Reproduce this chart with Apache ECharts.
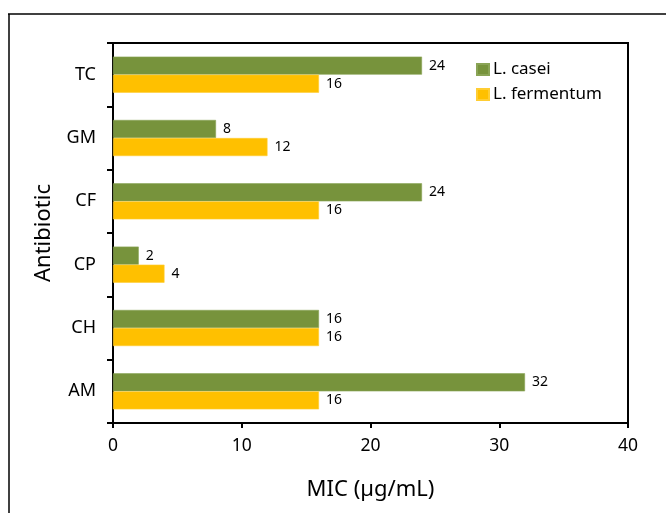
<!DOCTYPE html>
<html>
<head>
<meta charset="utf-8">
<script src="https://cdn.jsdelivr.net/npm/echarts@6/dist/echarts.min.js"></script>
<style>
html,body{margin:0;padding:0;background:#fff;}
#chart{width:666px;height:513px;}
</style>
</head>
<body>
<div id="chart"></div>
<script>
const categories = ['AM', 'CH', 'CP', 'CF', 'GM', 'TC'];
const caseiValues = [32, 16, 2, 24, 8, 24];
const fermentumValues = [16, 16, 4, 16, 12, 16];
const seriesNames = ['L. casei', 'L. fermentum'];
const xTicks = [0, 10, 20, 30, 40];

const FONT = '"Noto Sans", sans-serif';
const chart = echarts.init(document.getElementById('chart'), null, {renderer: 'canvas'});
chart.setOption({
  backgroundColor: '#fff',
  animation: false,
  textStyle: {fontFamily: FONT, color: '#000'},
  graphic: [
    {type: 'line', shape: {x1: 8, y1: 14, x2: 666, y2: 14}, style: {stroke: '#000', lineWidth: 1.5}},
    {type: 'line', shape: {x1: 9, y1: 14, x2: 9, y2: 513}, style: {stroke: '#000', lineWidth: 1.5}}
  ],
  grid: {left: 113, right: 38, top: 43, bottom: 90, show: true, borderColor: '#000', borderWidth: 2, containLabel: false},
  legend: {
    data: seriesNames,
    orient: 'vertical',
    left: 471, top: 56,
    itemWidth: 12, itemHeight: 11, itemGap: 8,
    icon: 'rect',
    textStyle: {fontFamily: FONT, fontSize: 17, lineHeight: 16, color: '#000', padding: [0, 0, 0, -1]}
  },
  xAxis: {
    type: 'value',
    min: xTicks[0], max: xTicks[xTicks.length - 1], interval: 10,
    name: 'MIC (µg/mL)', nameLocation: 'middle', nameGap: 56,
    nameTextStyle: {fontFamily: FONT, fontSize: 22, color: '#000'},
    axisLine: {show: true, lineStyle: {color: '#000', width: 2}},
    axisTick: {show: true, length: 5, lineStyle: {color: '#000', width: 2}},
    axisLabel: {fontFamily: FONT, fontSize: 17.5, color: '#000', margin: 14},
    splitLine: {show: false}
  },
  yAxis: {
    type: 'category',
    data: categories,
    name: 'Antibiotic', nameLocation: 'middle', nameGap: 58,
    nameTextStyle: {fontFamily: FONT, fontSize: 22, color: '#000'},
    axisLine: {show: true, lineStyle: {color: '#000', width: 2}},
    axisTick: {show: true, length: 6, lineStyle: {color: '#000', width: 2}},
    axisLabel: {fontFamily: FONT, fontSize: 18, color: '#000', margin: 17}
  },
  series: [
    {
      name: seriesNames[0], type: 'bar', data: caseiValues,
      barGap: '0%', barCategoryGap: '43%',
      itemStyle: {color: '#77933C', borderColor: '#8aa456', borderWidth: 0.6},
      label: {show: true, position: 'right', distance: 7, fontFamily: FONT, fontSize: 14, color: '#000'}
    },
    {
      name: seriesNames[1], type: 'bar', data: fermentumValues,
      barGap: '0%', barCategoryGap: '43%',
      itemStyle: {color: '#FFC000', borderColor: '#ffcd33', borderWidth: 0.6},
      label: {show: true, position: 'right', distance: 7, fontFamily: FONT, fontSize: 14, color: '#000'}
    }
  ]
});
</script>
</body>
</html>
